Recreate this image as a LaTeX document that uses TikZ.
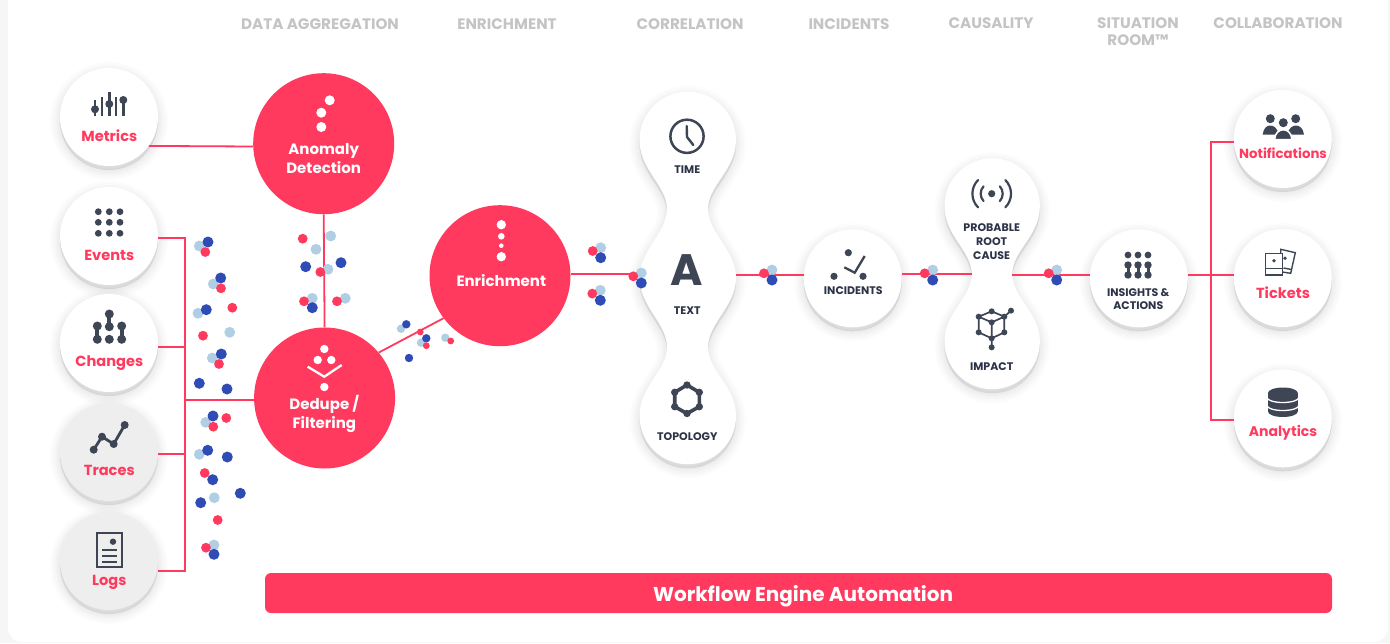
\documentclass[tikz,border=0pt]{standalone}
\usepackage{fontspec}
\setmainfont{Poppins}
\usetikzlibrary{calc}
\definecolor{rd}{HTML}{FF3A5E}
\definecolor{lb}{HTML}{B0CFE4}
\definecolor{bl}{HTML}{2F4BB5}
\definecolor{ic}{HTML}{3E4555}
\definecolor{tx}{HTML}{2C3347}
\definecolor{hd}{HTML}{C4C4C4}
\definecolor{pg}{HTML}{F6F6F6}
\definecolor{gc}{HTML}{EEEEEE}
\newcommand{\fsz}[1]{\fontsize{#1}{#1}\selectfont}
% soft shadow under any closed path
\newcommand{\softshadow}[1]{%
  \begin{scope}[shift={(0,4)}]
    \foreach \w in {20,16,12,9,6,3,1}{\draw[black,draw opacity=.012,line width=\w pt,fill=black,fill opacity=.012] #1;}
  \end{scope}}
\newcommand{\roundshadow}[3]{\softshadow{(#1,#2) circle (#3)}}
\tikzset{
  x=1pt,y=-1pt,
  redfill/.style={circle,fill=rd,draw=none,minimum size=141pt,inner sep=0pt},
  whitec/.style={circle,fill=white,draw=none,minimum size=98pt,inner sep=0pt},
  greyc/.style={circle,fill=gc,draw=none,minimum size=98pt,inner sep=0pt},
  wire/.style={draw=rd,line width=1.8pt},
  redlbl/.style={font=\bfseries\fsz{14.6},text=rd,inner sep=0pt,align=center,text height=10.2pt,text depth=0pt},
  whitelbl/.style={font=\bfseries\fsz{15},text=white,inner sep=0pt,align=center,text height=10.7pt,text depth=0pt},
  darklbl/.style={font=\bfseries\fsz{11},text=tx,inner sep=0pt,align=center,text height=7.7pt,text depth=0pt},
  headlbl/.style={font=\bfseries\fsz{15.2},text=hd,inner sep=0pt,align=center,text height=10.7pt,text depth=0pt},
  iconline/.style={draw=ic,line cap=round,line join=round},
}
\newcommand{\pR}[2]{\fill[rd] (#1,#2) circle (4.9);}
\newcommand{\pL}[2]{\fill[lb] (#1,#2) circle (5.4);}
\newcommand{\pB}[2]{\fill[bl] (#1,#2) circle (5.5);}
\newcommand{\trio}[2]{\pL{#1}{#2}\pB{#1}{#2+10}\pR{#1-8}{#2+3.3}}
\newcommand{\idot}[3]{\fill[ic] (#1,#2) circle (#3);}
\newcommand{\wdot}[3]{\fill[white] (#1,#2) circle (#3);}
\newcommand{\zp}[2]{({#1/3+740},{#2/3+150})}
\begin{document}
\begin{tikzpicture}
\useasboundingbox (0,0) rectangle (1390,643);
\fill[pg] (0,0) rectangle (1390,643);
\fill[white,rounded corners=14pt] (8,-20) rectangle (1388,642);

% shadows
\foreach \cx/\cy in {109/117,109/236,109/343,109/452,109/561,852.7/278.3,1138.8/278.3,1282.8/139,1282.8/278,1282.8/418.3}{
  \roundshadow{\cx}{\cy}{49}
}
\def\pillA{(639.5,140) arc[start angle=180,end angle=360,radius=48.25] .. controls (736,170) and (708,185) .. (708,209) .. controls (708,233) and (736,250) .. (736,278) .. controls (736,306) and (708,323) .. (708,347) .. controls (708,371) and (736,386) .. (736,416) arc[start angle=0,end angle=180,radius=48.25] .. controls (639.5,386) and (667,371) .. (667,347) .. controls (667,323) and (639.5,306) .. (639.5,278) .. controls (639.5,250) and (667,233) .. (667,209) .. controls (667,185) and (639.5,170) .. (639.5,140) -- cycle}
\def\pillB{(944.5,206) arc[start angle=180,end angle=360,radius=47.7] .. controls (1039.9,236) and (1012.3,250) .. (1012.3,274) .. controls (1012.3,298) and (1039.9,312) .. (1039.9,341.5) arc[start angle=0,end angle=180,radius=47.7] .. controls (944.5,312) and (971.7,298) .. (971.7,274) .. controls (971.7,250) and (944.5,236) .. (944.5,206) -- cycle}
\softshadow{\pillA}
\softshadow{\pillB}

% circles
\node[whitec] (metrics) at (109,117) {};
\node[whitec] (events) at (109,236) {};
\node[whitec] (changes) at (109,343) {};
\node[greyc] (traces) at (109,452) {};
\node[greyc] (logs) at (109,561) {};
\node[redfill] (anomaly) at (323.7,143.7) {};
\node[redfill] (dedupe) at (324.6,398) {};
\node[redfill] (enrich) at (500,275.7) {};
\fill[white] \pillA;
\fill[white] \pillB;
\node[whitec] (incidents) at (852.7,278.3) {};
\node[whitec] (insights) at (1138.8,278.3) {};
\node[whitec] (notif) at (1282.8,139) {};
\node[whitec] (tickets) at (1282.8,278) {};
\node[whitec] (analytics) at (1282.8,418.3) {};
\coordinate (pillAleft) at (640,273.7);
\coordinate (pillAright) at (736,275.3);
\coordinate (pillBleft) at (972,274);
\coordinate (pillBright) at (1012,275.3);

% connectors
\coordinate (busL) at (184.7,400);
\coordinate (busR) at (1210.7,275);
\draw[wire] (metrics.-36) -- (anomaly.west |- 0,146.5);
\draw[wire] (events.east |- 0,237.7) -| (busL);
\draw[wire] (logs.east |- 0,570.7) -| (busL);
\draw[wire] (changes.east |- 0,346.7) -- (184.7,346.7);
\draw[wire] (traces.east |- 0,453.7) -- (184.7,453.7);
\draw[wire] (busL) -- (dedupe.west |- busL);
\draw[wire] (anomaly.south) -- (dedupe.north);
\draw[wire] (dedupe.40) -- (enrich.217);
\draw[wire] (enrich.east |- pillAleft) -- (pillAleft);
\draw[wire] (pillAright) -- (incidents.west |- pillAright);
\draw[wire] (incidents.east |- pillBleft) -- (pillBleft);
\draw[wire] (pillBright) -- (insights.west |- pillBright);
\draw[wire] (insights.east |- busR) -- (tickets.west |- busR);
\draw[wire] (notif.west |- 0,142.3) -| (busR);
\draw[wire] (analytics.west |- 0,420) -| (busR);

% particles
\pL{199.3}{246}\pB{208}{242}\pR{205.3}{252}
\pL{213.3}{284}\pB{220.7}{278}\pR{221}{288.3}
\pL{198}{313.3}\pB{206.3}{309.7}\pR{232.3}{307.7}
\pR{203}{335.7}\pL{229.7}{332.3}
\pL{212.3}{358}\pB{221.3}{354}\pR{219}{364}
\pB{199.3}{383.3}\pB{227}{389}
\pL{205.7}{422.3}\pB{213}{416}\pR{213.3}{426.7}\pR{226.3}{418}
\pL{199.3}{454.3}\pB{207.7}{450.3}\pB{227.3}{457}
\pR{204.7}{473}\pB{212.7}{479.7}
\pL{214.3}{497.7}\pB{200.7}{502.7}\pB{240.3}{493.3}
\pR{217.7}{520}
\pL{214}{545}\pR{206}{547.7}\pB{214}{554.3}
\pR{302.7}{238.7}\pL{330.7}{236}\pL{316}{249.3}
\pB{305.7}{266.7}\pL{328}{269.3}\pR{320.3}{272}\pB{341}{262.7}
\pL{312.3}{298.3}\pR{304}{301.3}\pB{312.3}{307.7}\pL{345.3}{298.3}\pR{337}{301.3}
\fill[lb] (401,328.7) circle (4.2);\fill[bl] (406.3,324.3) circle (4.2);
\fill[rd] (420.3,332) circle (3.4);
\fill[lb] (421,342.7) circle (4.2);\fill[bl] (426.3,338.3) circle (4.2);\fill[rd] (426.3,345.7) circle (3.4);
\fill[lb] (445.3,337.7) circle (4.2);\fill[rd] (450.7,341) circle (3.4);
\fill[bl] (409,358) circle (4.2);
\trio{600.7}{247.7}\trio{600.3}{290.3}\trio{641.3}{273}
\trio{772}{270}\trio{932.7}{270}\trio{1056.7}{270}

% headers
\node[headlbl] (h1) at (320,24) {DATA AGGREGATION};
\node[headlbl] (h2) at (507,24) {ENRICHMENT};
\node[headlbl] (h3) at (690,24) {CORRELATION};
\node[headlbl] (h4) at (849,24) {INCIDENTS};
\node[headlbl] (h5) at (991,23) {CAUSALITY};
\node[headlbl] (h6) at (1138,23) {SITUATION};
\node[headlbl] (h6b) at (1138,40) {ROOM™};
\node[headlbl] (h7) at (1278,23) {COLLABORATION};

% labels
\node[redlbl] (lmetrics) at (109.3,136) {Metrics};
\node[redlbl] (levents) at (109.3,255) {Events};
\node[redlbl] (lchanges) at (109.3,361.7) {Changes};
\node[redlbl] (ltraces) at (109.3,470.3) {Traces};
\node[redlbl] (llogs) at (109.3,580) {Logs};
\node[redlbl] (lnotif) at (1283,153.5) {\fsz{13.3}Notifications};
\node[redlbl] (ltickets) at (1283,293.3) {Tickets};
\node[redlbl] (lanalytics) at (1283,431.3) {\fsz{14}Analytics};
\node[whitelbl] (lan1) at (323.7,149) {Anomaly};
\node[whitelbl] (lan2) at (323.7,168.3) {Detection};
\node[whitelbl] (lde1) at (324.3,404) {Dedupe /};
\node[whitelbl] (lde2) at (324.3,423.3) {Filtering};
\node[whitelbl] (len) at (501.3,281) {Enrichment};
\node[darklbl] (ltime) at (687.3,169.7) {TIME};
\node[darklbl] (ltext) at (687.3,311) {TEXT};
\node[darklbl] (ltopo) at (687.3,436.7) {TOPOLOGY};
\node[font=\bfseries\fsz{44},text=ic,inner sep=0pt,text height=31pt,text depth=0pt] (bigA) at (687,270) {A};
\node[darklbl] (linc) at (853.3,291) {INCIDENTS};
\node[darklbl] (lpr1) at (991.7,227.7) {PROBABLE};
\node[darklbl] (lpr2) at (991.7,241.3) {ROOT};
\node[darklbl] (lpr3) at (991.7,255.3) {CAUSE};
\node[darklbl] (limp) at (991.7,366.3) {IMPACT};
\node[darklbl] (lin1) at (1138.3,292.3) {INSIGHTS \&};
\node[darklbl] (lin2) at (1138.3,305.7) {ACTIONS};

% bar
\node[fill=rd,rounded corners=6pt,minimum width=1067pt,minimum height=40pt,inner sep=0pt] (bar) at (798.5,593) {};
\node[font=\bfseries\fsz{20},text=white,inner sep=0pt,text height=14pt,text depth=0pt] (barl) at (803,594) {Workflow Engine Automation};

% icon: metrics
\draw[iconline,line width=2.8pt,line cap=butt] (95,100) -- (95,116) (102,97) -- (102,116) (109.3,92) -- (109.3,116) (116,97) -- (116,116) (123.3,97) -- (123.3,116);
\idot{95}{109.3}{4}\idot{109.3}{104}{4}\idot{123.3}{100}{4}
% icon: events
\foreach \a in {98.3,109.3,120}{\foreach \b in {211.7,222.3,233.3}{\idot{\a}{\b}{3.4}}}
% icon: changes
\draw[iconline,line width=4pt] (109.3,314) -- (109.3,326.7) (97.3,326) -- (97.3,339.3) (121.7,326) -- (121.7,339.3);
\foreach \a/\b in {109.3/314,109.3/326.7,97.3/326,97.3/339.3,109.3/339.3,121.7/326,121.7/339.3}{\idot{\a}{\b}{4.5}}
% icon: traces
\draw[iconline,line width=2.8pt] (93.7,449.7) -- (102,436.7) -- (113.7,444) -- (124.7,425);
\foreach \a/\b in {93.7/449.7,102/436.7,113.7/444,124.7/425}{\idot{\a}{\b}{4}}
% icon: logs
\draw[ic,line width=1.7pt] (97,533.3) rectangle (121.7,566.7);
\idot{113}{541.7}{3.2}
\draw[ic,line width=2pt] (102,550.3) -- (116.7,550.3) (102,555.7) -- (116.7,555.7) (102,561.7) -- (116.7,561.7);
% icon: anomaly
\wdot{329.7}{100.3}{5}\wdot{321.3}{112.7}{5}\wdot{321.3}{127}{5}
% icon: dedupe
\wdot{324.3}{349}{4.2}\wdot{317.7}{360}{4.2}\wdot{331.3}{360}{4.2}\wdot{324.3}{387}{4.2}
\draw[white,line width=2.3pt] (307.7,366.7) -- (324.3,376.7) -- (341.7,365);
% icon: enrichment
\wdot{501.3}{224.7}{4.7}\wdot{501.3}{236.3}{3.3}\wdot{501.3}{245.7}{2.3}\wdot{501.3}{256.7}{4.7}
% icon: clock
\draw[ic,line width=2.5pt] (687,136.3) circle (16.6);
\draw[iconline,line width=2.4pt] (686.7,126) -- (687,137) -- (693.3,145);
% icon: topology
\draw[iconline,line width=3.6pt] (687,385) -- (699.3,392.3) -- (699.3,406.7) -- (687,413.5) -- (674.7,406.7) -- (674.7,392.3) -- cycle;
\foreach \a/\b in {687/385,699.3/392.3,699.3/406.7,687/413.5,674.7/406.7,674.7/392.3}{\idot{\a}{\b}{3.7}}
% icon: incidents
\idot{848.3}{252.7}{3.6}\idot{834}{276.3}{3.6}\idot{863}{276.3}{3.6}
\draw[ic,line width=2.3pt] (844.3,267.3) -- (854.7,272.7) -- (864.7,256);
% icon: root cause
\idot{991.7}{193.7}{3.6}
\draw[iconline,line width=2.2pt] ({991.7+11*cos(42)},{193.7-11*sin(42)}) arc[start angle=-42,end angle=42,radius=11];
\draw[iconline,line width=2.2pt] ({991.7-11*cos(42)},{193.7-11*sin(42)}) arc[start angle=222,end angle=138,radius=11];
\draw[iconline,line width=2.2pt] ({991.7+19.3*cos(45)},{193.7-19.3*sin(45)}) arc[start angle=-45,end angle=45,radius=19.3];
\draw[iconline,line width=2.2pt] ({991.7-19.3*cos(45)},{193.7-19.3*sin(45)}) arc[start angle=225,end angle=135,radius=19.3];
% icon: impact
\draw[iconline,line width=1.7pt] \zp{716}{500} -- \zp{755}{484} -- \zp{793}{500} -- \zp{755}{517} -- cycle \zp{755}{517} -- \zp{755}{592} \zp{716}{500} -- \zp{716}{547} -- \zp{755}{565} -- \zp{793}{547} -- \zp{793}{500} -- \zp{813}{482};
\foreach \a/\b in {716/500,755/484,793/500,755/517,716/547,793/547,755/565,755/592,813/482}{\fill[ic] \zp{\a}{\b} circle (3);}
% icon: insights
\foreach \a in {1128,1138,1148}{
  \idot{\a}{255}{3.4}
  \draw[ic,line width=3pt] (\a,265) -- (\a,275);
  \idot{\a}{265}{3.7}\idot{\a}{275}{3.7}
}
% icon: notifications
\idot{1270.3}{118.7}{4.5}\idot{1295.7}{118.7}{4.5}
\fill[ic] (1262.7,134.5) .. controls (1263.5,128) and (1267,125.5) .. (1270,125.5) .. controls (1274,125.5) and (1277,128) .. (1279,134.5) -- cycle;
\fill[ic] (1304,134.5) .. controls (1303,128) and (1299.5,125.5) .. (1296,125.5) .. controls (1292.5,125.5) and (1289,128) .. (1287,134.5) -- cycle;
\draw[white,line width=1.6pt,fill=ic] (1274.5,139.6) .. controls (1275,133) and (1279,129.7) .. (1283.3,129.7) .. controls (1287.5,129.7) and (1291.5,133) .. (1292,139.6) -- cycle;
\idot{1283.3}{122.7}{4.5}
% icon: tickets
\draw[ic,line width=1.4pt] (1280.7,253) -- (1280.7,249.3) -- (1295.3,252.7) -- (1290.7,273.3) -- (1282.3,272);
\draw[ic,line width=1.4pt] (1283.5,268) -- (1291.5,269.5);
\idot{1285}{258.3}{1.9}
\draw[ic,line width=1.4pt,fill=white] (1265.3,253.3) rectangle (1282.3,275);
\draw[ic,line width=1.4pt] (1265.3,268.3) -- (1282.3,268.3);
\idot{1274}{260.7}{1.9}
% icon: analytics
\fill[ic] (1268,393) -- (1268,411.5) arc[start angle=180,end angle=0,x radius=14.9,y radius=5.5] -- (1297.8,393) arc[start angle=0,end angle=-180,x radius=14.9,y radius=5.5] -- cycle;
\draw[white,line width=1.3pt] (1267,397.5) arc[start angle=180,end angle=0,x radius=15.9,y radius=5];
\draw[white,line width=1.3pt] (1267,405.5) arc[start angle=180,end angle=0,x radius=15.9,y radius=5];
\end{tikzpicture}
\end{document}
